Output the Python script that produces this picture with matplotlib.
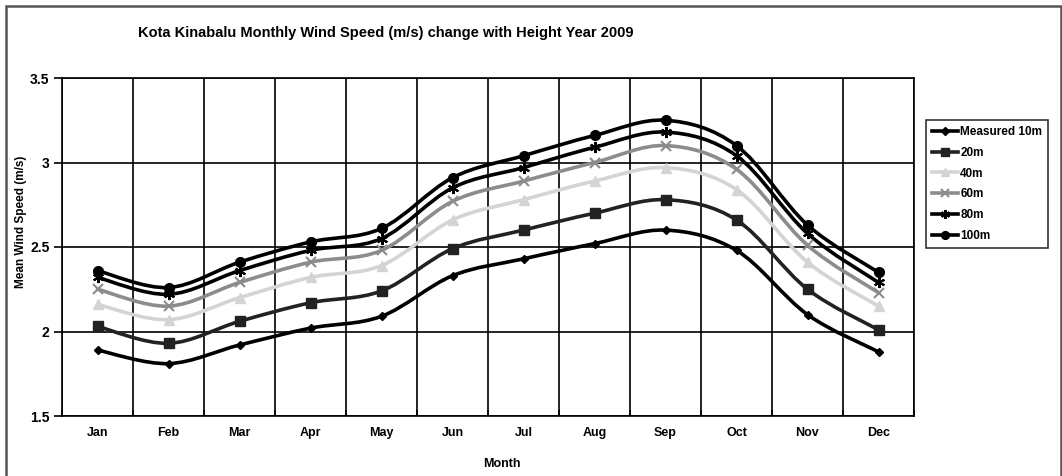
import numpy as np
import matplotlib
matplotlib.use("Agg")
import matplotlib.pyplot as plt
from matplotlib.path import Path
from matplotlib.patches import PathPatch, Rectangle
from matplotlib.lines import Line2D

plt.rcParams['font.family'] = ['Liberation Sans', 'DejaVu Sans']
plt.rcParams['font.weight'] = 'bold'

months = ['Jan', 'Feb', 'Mar', 'Apr', 'May', 'Jun', 'Jul', 'Aug', 'Sep', 'Oct', 'Nov', 'Dec']
m10 = [1.89, 1.81, 1.92, 2.02, 2.09, 2.33, 2.43, 2.52, 2.60, 2.48, 2.10, 1.88]
m20 = [2.03, 1.93, 2.06, 2.17, 2.24, 2.49, 2.60, 2.70, 2.78, 2.66, 2.25, 2.01]
m40 = [2.16, 2.07, 2.20, 2.32, 2.39, 2.66, 2.78, 2.89, 2.97, 2.84, 2.41, 2.15]
m60 = [2.25, 2.15, 2.29, 2.41, 2.48, 2.77, 2.89, 3.00, 3.10, 2.96, 2.51, 2.23]
m80 = [2.32, 2.22, 2.36, 2.48, 2.55, 2.85, 2.97, 3.09, 3.18, 3.04, 2.58, 2.29]
m100 = [2.36, 2.26, 2.41, 2.53, 2.61, 2.91, 3.04, 3.16, 3.25, 3.10, 2.63, 2.35]
labels = ['Measured 10m', '20m', '40m', '60m', '80m', '100m']


def smooth_path(x, y):
    # Excel-style smoothed line: Catmull-Rom segments as cubic Beziers
    pts = np.column_stack([x, y]).astype(float)
    p = np.vstack([pts[0], pts, pts[-1]])
    verts = [tuple(pts[0])]
    codes = [Path.MOVETO]
    for i in range(1, len(p) - 2):
        c1 = p[i] + (p[i + 1] - p[i - 1]) / 6
        c2 = p[i + 1] - (p[i + 2] - p[i]) / 6
        verts += [tuple(c1), tuple(c2), tuple(p[i + 1])]
        codes += [Path.CURVE4] * 3
    return Path(verts, codes)


fig = plt.figure(figsize=(10.62, 4.76), dpi=100)
ax = fig.add_axes([62 / 1062, 60 / 476, 852 / 1062, 338 / 476])

# outer chart border
fig.patches.append(Rectangle((6 / 1062, -0.1), 1055 / 1062, 1.1 - 6 / 476, transform=fig.transFigure,
                             fill=False, edgecolor='#555555', linewidth=1.8))

x = np.arange(len(months))
styles = [
    dict(color='black', marker='D', ms=4.5, mfc='black', mec='black', mew=1),
    dict(color='#222222', marker='s', ms=7, mfc='#222222', mec='#222222', mew=1),
    dict(color='#d4d4d4', marker='^', ms=7, mfc='#d4d4d4', mec='#d4d4d4', mew=1),
    dict(color='#8c8c8c', marker='x', ms=7, mfc='#8c8c8c', mec='#8c8c8c', mew=1.5),
    dict(color='black', marker=(6, 2, 0), ms=8, mfc='black', mec='black', mew=1.5),
    dict(color='black', marker='o', ms=7, mfc='black', mec='black', mew=1),
]
series = [m10, m20, m40, m60, m80, m100]
handles = []
for vals, st, lab in zip(series, styles, labels):
    ax.add_patch(PathPatch(smooth_path(x, vals), fill=False, edgecolor=st['color'],
                           linewidth=2.6, capstyle='round', joinstyle='round', zorder=3))
    ax.plot(x, vals, linestyle='none', marker=st['marker'], ms=st['ms'], mfc=st['mfc'],
            mec=st['mec'], mew=st['mew'], zorder=4)
    handles.append(Line2D([], [], color=st['color'], lw=2.6, marker=st['marker'], ms=st['ms'] * 0.8,
                          mfc=st['mfc'], mec=st['mec'], mew=st['mew']))

ax.set_xlim(-0.5, 11.5)
ax.set_ylim(1.5, 3.5)
ax.set_yticks([1.5, 2, 2.5, 3, 3.5])
ax.set_yticklabels(['1.5', '2', '2.5', '3', '3.5'])
ax.set_xticks(x)
ax.set_xticklabels(months)
ax.set_xticks(np.arange(-0.5, 12, 1), minor=True)
ax.tick_params(axis='x', which='major', length=0, pad=8, labelsize=9)
ax.tick_params(axis='x', which='minor', length=4, direction='in', width=1.2)
ax.tick_params(axis='y', length=6, direction='out', width=1.2, labelsize=10, pad=3)
ax.grid(True, axis='y', which='major', color='black', linewidth=1.2)
ax.grid(True, axis='x', which='minor', color='black', linewidth=1.2)
for s in ax.spines.values():
    s.set_linewidth(1.2)
    s.set_color('black')

ax.set_xlabel('Month', fontsize=9, fontweight='bold')
ax.xaxis.set_label_coords(0.516, -0.124)
ax.set_ylabel('Mean Wind Speed (m/s)', fontsize=8.5, fontweight='bold')
ax.yaxis.set_label_coords(-0.041, 0.574)
fig.text(138 / 1062, 1 - 33 / 476, 'Kota Kinabalu Monthly Wind Speed (m/s) change with Height Year 2009',
         fontsize=10.5, fontweight='bold', va='center', ha='left')

leg = fig.legend(handles, labels, loc='upper left', bbox_to_anchor=(920 / 1062, 1 - 114 / 476),
                 fontsize=8.5, frameon=True, fancybox=False, edgecolor='black',
                 handlelength=2.2, handletextpad=0.2, labelspacing=0.75, borderpad=0.5)
leg.get_frame().set_linewidth(1.2)
for t in leg.get_texts():
    t.set_fontweight('bold')

fig.savefig('out.png', dpi=100)
